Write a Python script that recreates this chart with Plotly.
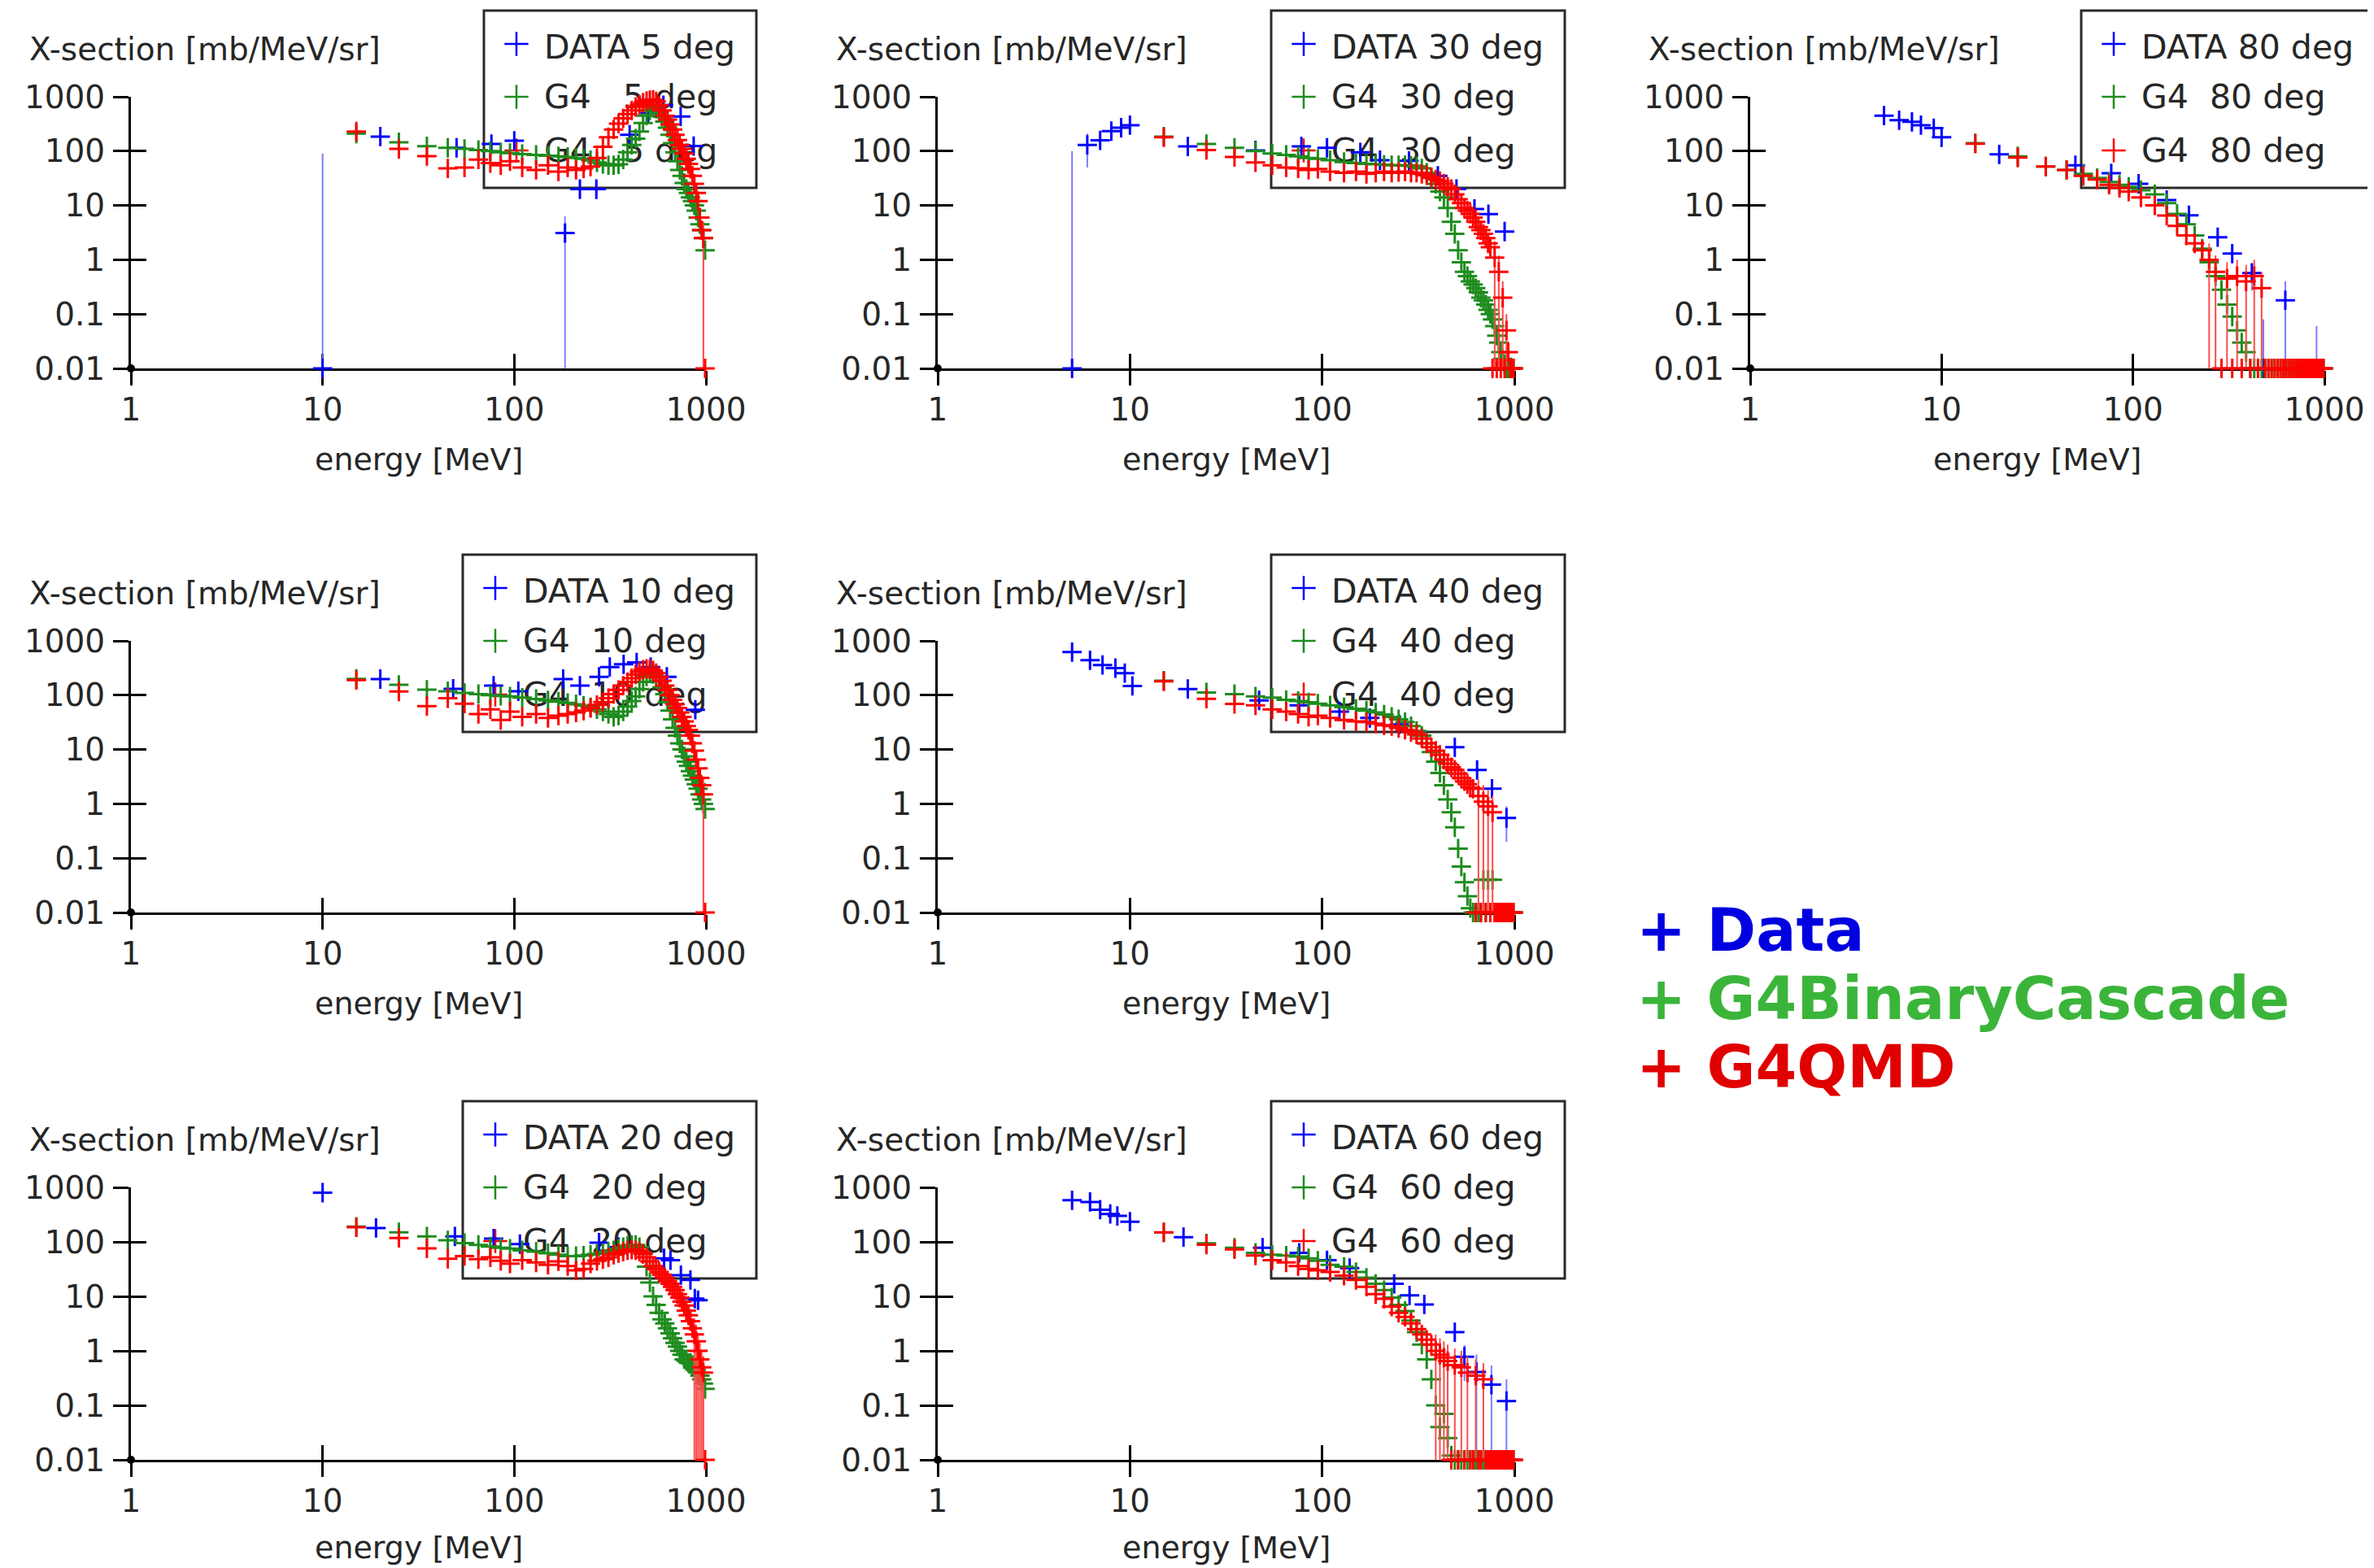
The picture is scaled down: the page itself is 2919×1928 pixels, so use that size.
import plotly.graph_objects as go

W, H = 2919, 1928          # browser window
OFF = 8                    # default body margin of the page
FW, FH = W - OFF, H - OFF

# ---------------- data ----------------
ANGLES = [5, 30, 80, 10, 40, 20, 60]
X_TICKS = [1, 10, 100, 1000]
X_TICK_TEXT = ["1", "10", "100", "1000"]
Y_TICKS = [0.01, 0.1, 1, 10, 100, 1000]
Y_TICK_TEXT = ["0.01", "0.1", "1", "10", "100", "1000"]

# simulation energy bins (MeV)
E_SIM = [15, 25, 35, 45, 55, 65, 75, 85, 95,
         110, 130, 150, 170, 190, 210, 230, 250, 270, 290,
         310, 330, 350, 370, 390, 410, 430, 450, 470, 490,
         510, 530, 550, 570, 590, 610, 630, 650, 670, 690,
         710, 730, 750, 770, 790, 810, 830, 850, 870, 890,
         910, 930, 950, 970, 990]

# ---- 5 deg ----
D5_E = [10, 20, 50, 76, 100, 184, 220, 268, 400, 500, 600, 738, 863]
D5_V = [0.01, 185, 115, 135, 155, 3.1, 20, 20, 200, 500, 700, 435, 124]
D5_ERR = [90, 15, 10, 12, 14, 3.2, 7, 7, 20, 50, 70, 40, 15]
BC5 = [210, 145, 123, 115, 110, 105, 100, 95, 92,
       88, 85, 82, 80, 78, 75, 72, 68, 62, 58,
       55, 55, 57, 70, 95, 130, 170, 230, 330, 450,
       560, 640, 600, 520, 430, 350, 270, 200, 140, 95,
       65, 45, 35, 26, 20, 17, 14, 12, 10, 8,
       6, 4.5, 3.5, 2.5, 1.5]
QMD5 = [230, 110, 81, 48, 50, 70, 60, 55, 65,
        50, 45, 55, 42, 50, 45, 48, 52, 75, 120,
        180, 250, 320, 400, 480, 560, 650, 720, 780, 840,
        870, 880, 820, 700, 560, 450, 380, 310, 250, 200,
        160, 130, 110, 90, 72, 58, 47, 35, 25, 17,
        12, 6, 3.5, 2.5, 0.01]
BC5_TAIL = []
QMD5_TAIL = [970]

# ---- 30 deg ----
D30_E = [5, 6, 7, 8, 9, 10, 20, 45, 78, 106, 158, 200, 283, 400, 500, 620, 733, 890]
D30_V = [0.01, 130, 158, 233, 270, 300, 122, 103, 122, 115, 95, 68, 66, 35, 20, 8.6, 6.9, 3.3]
D30_ERR = [100, 80, 40, 40, 40, 40, 12, 10, 12, 10, 10, 7, 7, 4, 3, 1.5, 1.2, 0.8]
BC30 = [185, 135, 115, 100, 90, 85, 80, 75, 72,
        68, 63, 60, 58, 57, 56, 55, 55, 55, 54,
        52, 48, 40, 32, 25, 18, 14, 9, 5, 3,
        1.5, 0.9, 0.6, 0.5, 0.4, 0.35, 0.3, 0.25, 0.2, 0.18,
        0.15, 0.12, 0.1, 0.08, 0.06, 0.04, 0.03, 0.02, 0.015, 0.012,
        0.01, 0.01, 0.01, 0.01, 0.01]
QMD30 = [180, 105, 78, 62, 55, 50, 48, 45, 47,
         42, 40, 42, 38, 40, 42, 40, 41, 42, 40,
         40, 38, 36, 33, 30, 28, 25, 22, 20, 16,
         13, 11, 9, 8, 7, 6, 5, 4, 3.5, 3,
         2.5, 2, 1.7, 0.01, 1.1, 0.01, 0.6, 0.01, 0.2, 0.01,
         0.05, 0.02, 0.01, 0.01, 0.01]
BC30_TAIL = []
QMD30_TAIL = [790, 830, 870, 910]

# ---- 80 deg ----
D80_E = [5, 6, 7, 7.8, 9.1, 10, 20, 50, 77, 107, 150, 196, 277, 330, 418, 480, 625, 910]
D80_V = [450, 370, 345, 300, 265, 180, 87, 55, 39, 25, 12.6, 6.6, 2.6, 1.3, 0.57, 0.01, 0.18, 0.01]
D80_ERR = [40, 35, 30, 30, 25, 18, 9, 6, 4, 3, 1.5, 0.8, 0.4, 0.4, 0.3, 0.07, 0.22, 0.05]
BC80 = [140, 80, 52, 45, 38, 32, 27, 24, 22,
        19, 16, 11, 7, 4.5, 2.8, 1.6, 0.9, 0.5, 0.28,
        0.15, 0.09, 0.05, 0.03, 0.02, 0.01, 0.01, 0.01, 0.01, 0.01,
        0.01, 0.01, 0.01, 0.01, 0.01, 0.01, 0.01, 0.01, 0.01, 0.01,
        0.01, 0.01, 0.01, 0.01, 0.01, 0.01, 0.01, 0.01, 0.01, 0.01,
        0.01, 0.01, 0.01, 0.01, 0.01]
QMD80 = [137, 76, 52, 45, 35, 30, 24, 21, 18,
         14, 10, 6.5, 4.2, 2.8, 2.0, 1.5, 1.0, 0.6, 0.01,
         0.45, 0.01, 0.5, 0.01, 0.4, 0.01, 0.5, 0.01, 0.3, 0.01,
         0.01, 0.01, 0.01, 0.01, 0.01, 0.01, 0.01, 0.01, 0.01, 0.01,
         0.01, 0.01, 0.01, 0.01, 0.01, 0.01, 0.01, 0.01, 0.01, 0.01,
         0.01, 0.01, 0.01, 0.01, 0.01]
BC80_TAIL = []
QMD80_TAIL = [250, 270, 310, 350, 390, 430, 470]

# ---- 10 deg ----
D10_E = [20, 48, 78, 105, 180, 220, 277, 315, 372, 435, 515, 625, 880]
D10_V = [198, 131, 150, 118, 198, 150, 218, 330, 370, 400, 330, 218, 54]
D10_ERR = [20, 13, 15, 12, 20, 15, 22, 33, 37, 40, 33, 22, 8]
BC10 = [200, 155, 126, 118, 110, 105, 100, 97, 95,
        90, 85, 80, 76, 72, 68, 64, 60, 55, 50,
        45, 40, 42, 50, 62, 78, 95, 130, 175, 220,
        250, 245, 220, 180, 140, 105, 75, 52, 36, 25,
        18, 13, 10, 7.5, 6, 5, 4, 3.3, 2.8, 2.3,
        1.9, 1.5, 1.2, 1.0, 0.8]
QMD10 = [190, 117, 63, 88, 70, 45, 55, 35, 50,
         40, 45, 38, 42, 45, 48, 52, 58, 66, 75,
         88, 105, 125, 150, 175, 205, 240, 270, 295, 305,
         300, 285, 255, 220, 185, 150, 125, 100, 82, 68,
         58, 48, 40, 33, 27, 23, 18, 13, 9.5, 6.5,
         4.5, 3, 2.2, 1.5, 0.01]
BC10_TAIL = []
QMD10_TAIL = [970]

# ---- 40 deg ----
D40_E = [5, 6.2, 7.2, 8.4, 9.4, 10.3, 20, 47, 76, 123, 177, 252, 490, 640, 765, 910]
D40_V = [620, 440, 360, 315, 255, 148, 130, 80, 65, 50, 38, 29, 11, 4.2, 1.9, 0.55]
D40_ERR = [60, 45, 36, 32, 26, 15, 13, 8, 7, 5, 4, 3, 1.5, 0.7, 0.4, 0.35]
BC40 = [185, 112, 105, 95, 90, 82, 78, 74, 70,
        65, 60, 56, 52, 48, 44, 40, 36, 32, 27,
        22, 18, 13, 9, 6, 3.7, 2.2, 1.2, 0.7, 0.37,
        0.15, 0.07, 0.036, 0.02, 0.012, 0.01, 0.01, 0.01, 0.01, 0.04,
        0.01, 0.04, 0.01, 0.04, 0.01, 0.01, 0.01, 0.01, 0.01, 0.01,
        0.01, 0.01, 0.01, 0.01, 0.01]
QMD40 = [180, 86, 69, 65, 55, 50, 45, 40, 42,
         38, 35, 33, 32, 30, 28, 27, 25, 23, 21,
         19, 16, 13, 11, 9.5, 8, 6.5, 5.5, 4.7, 4.2,
         3.6, 3.0, 2.6, 2.3, 2.0, 1.9, 0.01, 1.4, 0.01, 1.1,
         0.01, 0.9, 0.01, 0.7, 0.01, 0.01, 0.01, 0.01, 0.01, 0.01,
         0.01, 0.01, 0.01, 0.01, 0.01]
BC40_TAIL = []
QMD40_TAIL = [650, 690, 730, 770]

# ---- 20 deg ----
D20_E = [10, 19, 49, 78, 107, 277, 350, 605, 653, 740, 830, 875, 910]
D20_V = [800, 180, 126, 115, 91, 97, 80, 50, 46, 24.5, 20, 9.1, 8.5]
D20_ERR = [80, 18, 13, 12, 9, 10, 8, 5, 5, 2.5, 2, 1, 1]
BC20 = [190, 150, 126, 107, 95, 88, 82, 78, 75,
        70, 66, 62, 58, 55, 55, 56, 58, 60, 62,
        66, 70, 75, 80, 85, 88, 88, 80, 60, 35,
        18, 10, 7, 5, 3.8, 3.2, 2.6, 2.1, 1.7, 1.4,
        1.2, 1.0, 0.85, 0.7, 0.65, 0.6, 0.6, 0.55, 0.5, 0.45,
        0.4, 0.35, 0.3, 0.25, 0.2]
QMD20 = [185, 118, 76, 49, 55, 48, 52, 45, 40,
         46, 42, 38, 44, 36, 30, 32, 40, 45, 48,
         52, 58, 62, 66, 70, 72, 70, 66, 60, 52,
         44, 36, 32, 28, 25, 22, 19, 17, 15, 13,
         11, 9.5, 8, 6.8, 5.5, 4.5, 3.5, 2.6, 2.0, 1.5,
         1.0, 0.7, 0.5, 0.4, 0.01]
BC20_TAIL = []
QMD20_TAIL = [870, 890, 910, 930, 950, 970]

# ---- 60 deg ----
D60_E = [5, 6.2, 7, 7.9, 8.6, 10, 19, 49, 76, 106, 139, 237, 285, 340, 490, 550, 635, 760, 910]
D60_V = [580, 540, 390, 325, 300, 235, 122, 78, 63, 46, 33, 17, 10.4, 7.1, 2.2, 0.78, 0.41, 0.24, 0.12]
D60_ERR = [58, 54, 39, 33, 30, 24, 12, 8, 6, 5, 3.5, 2, 1.2, 0.9, 0.5, 0.5, 0.45, 0.3, 0.18]
BC60 = [148, 94, 78, 63, 58, 56, 54, 50, 45,
        38, 35, 28, 22, 17, 13, 9.5, 7, 5.4, 3.6,
        2.2, 1.3, 0.7, 0.3, 0.1, 0.04, 0.07, 0.025, 0.012, 0.01,
        0.01, 0.01, 0.01, 0.01, 0.01, 0.01, 0.01, 0.01, 0.01, 0.01,
        0.01, 0.01, 0.01, 0.01, 0.01, 0.01, 0.01, 0.01, 0.01, 0.01,
        0.01, 0.01, 0.01, 0.01, 0.01]
QMD60 = [150, 89, 73, 56, 46, 42, 36, 32, 30,
         28, 24, 20, 15, 11, 9, 6.5, 5, 4.2, 3.2,
         2.5, 2.0, 1.6, 1.3, 1.0, 0.85, 0.75, 0.65, 0.01, 0.55,
         0.01, 0.5, 0.01, 0.4, 0.01, 0.01, 0.35, 0.01, 0.01, 0.3,
         0.01, 0.01, 0.01, 0.01, 0.01, 0.01, 0.01, 0.01, 0.01, 0.01,
         0.01, 0.01, 0.01, 0.01, 0.01]
BC60_TAIL = []
QMD60_TAIL = [390, 410, 430, 450, 490, 530, 570, 630, 690]

PANEL_DATA = {
    5: (D5_E, D5_V, D5_ERR, BC5, QMD5, BC5_TAIL, QMD5_TAIL),
    30: (D30_E, D30_V, D30_ERR, BC30, QMD30, BC30_TAIL, QMD30_TAIL),
    80: (D80_E, D80_V, D80_ERR, BC80, QMD80, BC80_TAIL, QMD80_TAIL),
    10: (D10_E, D10_V, D10_ERR, BC10, QMD10, BC10_TAIL, QMD10_TAIL),
    40: (D40_E, D40_V, D40_ERR, BC40, QMD40, BC40_TAIL, QMD40_TAIL),
    20: (D20_E, D20_V, D20_ERR, BC20, QMD20, BC20_TAIL, QMD20_TAIL),
    60: (D60_E, D60_V, D60_ERR, BC60, QMD60, BC60_TAIL, QMD60_TAIL),
}

SUMMARY_LABELS = ["+ Data", "+ G4BinaryCascade", "+ G4QMD"]

# ---------------- style / layout ----------------
FONT = "DejaVu Sans"
TXT = "#262626"
BLUE, GREEN, RED = "#0000ff", "#1e8c1e", "#ff0000"
BLUE_ERR, GREEN_ERR, RED_ERR = "#7d7dff", "#3a9a3a", "#ff4a4a"
SUM_COLORS = ["#0000e0", "#3ab53a", "#e00000"]

# geometry in window pixels
COL_L = [161, 1153, 2152]
COL_R = [868, 1862, 2858]
ROW_T = [119, 788, 1460]
ROW_B = [453, 1122, 1795]
XT_OFF = [112, 112, 108]
GRID = {5: (0, 0), 30: (0, 1), 80: (0, 2), 10: (1, 0), 40: (1, 1), 20: (2, 0), 60: (2, 1)}
YMIN = 0.01
NB = "\u00a0"
NP = len(ANGLES)
MK = 3.0   # marker stroke


def fx(p):
    return (p - OFF) / FW


def fy(p):
    return 1 - (p - OFF) / FH


def ax_id(letter, i):
    return letter if i == 1 else f"{letter}{i}"


def ax_key(letter, i):
    return f"{letter}axis" if i == 1 else f"{letter}axis{i}"


fig = go.Figure()
layout = dict(
    width=FW, height=FH,
    margin=dict(l=0, r=0, t=0, b=0, autoexpand=False),
    paper_bgcolor="white", plot_bgcolor="rgba(0,0,0,0)",
    showlegend=False,
    shapes=[], annotations=[],
)

# 1) per-panel legends: own invisible subplots (ids 1..7, drawn beneath the data)
for k, ang in enumerate(ANGLES):
    r, c = GRID[ang]
    L, R, T, B = COL_L[c], COL_R[c], ROW_T[r], ROW_B[r]
    g = k + 1
    two = ang >= 10
    box_r = min(R + 62, W - 3)
    box_l = R + 62 - (361 if two else 335)
    box_t, box_b = T - 106, T + 112
    layout[ax_key("x", g)] = dict(domain=[fx(box_l), fx(box_r)], range=[box_l, box_r],
                                  anchor=ax_id("y", g), visible=False, fixedrange=True)
    layout[ax_key("y", g)] = dict(domain=[fy(box_b), fy(box_t)], range=[box_b, box_t],
                                  anchor=ax_id("x", g), visible=False, fixedrange=True)
    layout["shapes"].append(dict(type="rect", xref="paper", yref="paper", layer="below",
                                 x0=fx(box_l), x1=fx(box_r), y0=fy(box_b), y1=fy(box_t),
                                 line=dict(color="#2a2a2a", width=3), fillcolor="rgba(0,0,0,0)"))
    mark_y = [T - 65, T, T + 66]
    text_y = [T - 57, T + 4, T + 70]
    gap = NB * (2 if two else 3)
    labels = [f"DATA {ang} deg", f"G4{gap}{ang} deg", f"G4{gap}{ang} deg"]
    fig.add_trace(go.Scatter(
        x=[box_l + 40] * 3, y=mark_y, mode="markers",
        marker=dict(symbol="cross-thin", size=21, color=[BLUE, GREEN, RED],
                    line=dict(width=2.5, color=[BLUE, GREEN, RED])),
        xaxis=ax_id("x", g), yaxis=ax_id("y", g), cliponaxis=False,
        showlegend=False, hoverinfo="skip"))
    fig.add_trace(go.Scatter(
        x=[box_l + 74] * 3, y=text_y, mode="text", text=labels,
        textposition="middle right", textfont=dict(family=FONT, size=41, color=TXT),
        xaxis=ax_id("x", g), yaxis=ax_id("y", g), cliponaxis=False,
        showlegend=False, hoverinfo="skip"))

# 2) data panels (main + tick overlay)
for k, ang in enumerate(ANGLES):
    r, c = GRID[ang]
    L, R, T, B = COL_L[c], COL_R[c], ROW_T[r], ROW_B[r]
    m, n = NP + 1 + 2 * k, NP + 2 + 2 * k
    xm, ym, xn, yn = ax_id("x", m), ax_id("y", m), ax_id("x", n), ax_id("y", n)

    dom_x = [fx(L), fx(R)]
    dom_y = [fy(B), fy(T)]
    common = dict(type="log", showgrid=False, zeroline=False, layer="below traces",
                  tickcolor="black", tickwidth=3, fixedrange=True)
    layout[ax_key("x", m)] = dict(common, domain=dom_x, anchor=ym, range=[0, 3],
                                  showline=True, linewidth=3, linecolor="black",
                                  ticks="outside", ticklen=18,
                                  tickvals=X_TICKS, ticktext=X_TICK_TEXT,
                                  tickfont=dict(family=FONT, size=39, color=TXT),
                                  ticklabelstandoff=-4)
    layout[ax_key("y", m)] = dict(common, domain=dom_y, anchor=xm, range=[-2, 3],
                                  showline=True, linewidth=3, linecolor="black",
                                  ticks="outside", ticklen=19,
                                  tickvals=Y_TICKS, ticktext=Y_TICK_TEXT,
                                  tickfont=dict(family=FONT, size=39, color=TXT),
                                  ticklabelstandoff=2)
    layout[ax_key("x", n)] = dict(common, overlaying=xm, anchor=ym, side="bottom",
                                  range=[0, 3], ticks="inside", ticklen=18,
                                  tickvals=X_TICKS, showticklabels=False, showline=False)
    layout[ax_key("y", n)] = dict(common, overlaying=ym, anchor=xm, side="left",
                                  range=[-2, 3], ticks="inside", ticklen=19,
                                  tickvals=Y_TICKS, showticklabels=False, showline=False)
    fig.add_trace(go.Scatter(x=[], y=[], xaxis=xn, yaxis=yn, showlegend=False, hoverinfo="skip"))

    dE, dV, dErr, bc, qmd, bc_tail, qmd_tail = PANEL_DATA[ang]
    assert len(dE) == len(dV) == len(dErr)
    assert len(bc) == len(E_SIM) and len(qmd) == len(E_SIM)
    d_minus = [min(s, max(v - 1.01 * YMIN, 0)) for v, s in zip(dV, dErr)]
    fig.add_trace(go.Scatter(
        x=dE, y=dV, mode="markers", xaxis=xm, yaxis=ym, cliponaxis=False,
        marker=dict(symbol="cross-thin", size=17, color=BLUE, line=dict(width=MK, color=BLUE)),
        error_y=dict(type="data", symmetric=False, array=dErr, arrayminus=d_minus,
                     color=BLUE_ERR, thickness=2, width=0),
        showlegend=False, name=f"DATA {ang} deg"))
    for vals, tail, col, ecol, nm in ((bc, bc_tail, GREEN, GREEN_ERR, "G4BinaryCascade"),
                                      (qmd, qmd_tail, RED, RED_ERR, "G4QMD")):
        plus = [v if e in tail else 0 for e, v in zip(E_SIM, vals)]
        minus = [max(v - 1.01 * YMIN, 0) if e in tail else 0 for e, v in zip(E_SIM, vals)]
        fig.add_trace(go.Scatter(
            x=E_SIM, y=vals, mode="markers", xaxis=xm, yaxis=ym, cliponaxis=False,
            marker=dict(symbol="cross-thin", size=17, color=col, line=dict(width=MK, color=col)),
            error_y=dict(type="data", symmetric=False, array=plus, arrayminus=minus,
                         color=ecol, thickness=2, width=0),
            showlegend=False, name=f"{nm} {ang} deg"))

    # origin dot
    layout["shapes"].append(dict(type="circle", xref="paper", yref="paper",
                                 xsizemode="pixel", ysizemode="pixel",
                                 xanchor=fx(L), yanchor=fy(B),
                                 x0=-5, x1=5, y0=-5, y1=5,
                                 fillcolor="black", line=dict(color="black", width=0)))
    # axis titles
    layout["annotations"].append(dict(
        text="X-section [mb/MeV/sr]", xref="paper", yref="paper",
        x=fx(L - 127), y=fy(T - 59), xanchor="left", yanchor="middle",
        showarrow=False, font=dict(family=FONT, size=39, color=TXT)))
    layout["annotations"].append(dict(
        text="energy [MeV]", xref="paper", yref="paper",
        x=fx((L + R) / 2), y=fy(B + XT_OFF[r]), xanchor="center", yanchor="middle",
        showarrow=False, font=dict(family=FONT, size=38, color=TXT)))

# overall legend text
for i, (lab, col) in enumerate(zip(SUMMARY_LABELS, SUM_COLORS)):
    layout["annotations"].append(dict(
        text=f"<b>{lab}</b>", xref="paper", yref="paper",
        x=fx(2010), y=fy(1143 + 84 * i), xanchor="left", yanchor="middle",
        showarrow=False, font=dict(family=FONT, size=73, color=col)))

fig.update_layout(**layout)
fig.write_html("out.html", config={"displayModeBar": False})
